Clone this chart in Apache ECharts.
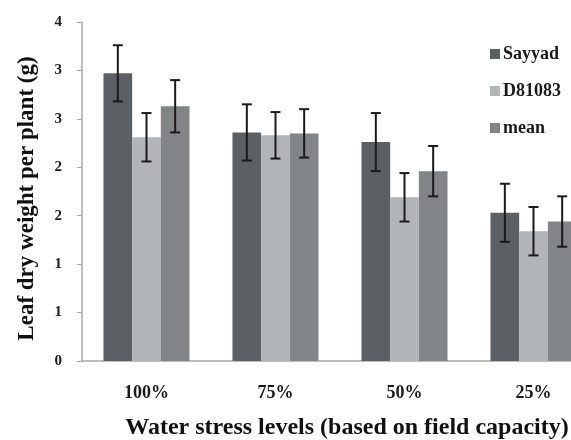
<!DOCTYPE html>
<html>
<head>
<meta charset="utf-8">
<script src="https://cdn.jsdelivr.net/npm/echarts@6/dist/echarts.min.js"></script>
<style>
  html, body { margin: 0; padding: 0; background: #fff; }
  #chart { width: 571px; height: 440px; }
</style>
</head>
<body>
<div id="chart"></div>
<script>
var categories = ['100%', '75%', '50%', '25%'];
var sayyad = [2.97, 2.36, 2.26, 1.53];
var sayyadErr = [0.29, 0.29, 0.30, 0.30];
var d81083 = [2.31, 2.33, 1.69, 1.34];
var d81083Err = [0.25, 0.24, 0.25, 0.25];
var meanVals = [2.63, 2.35, 1.96, 1.44];
var meanErr = [0.27, 0.25, 0.26, 0.26];
var yTickLabels = ['0', '1', '1', '2', '2', '3', '3', '4'];

var colors = ['#5b6064', '#b1b5b8', '#818588'];
var font = 'Liberation Serif';

// error bar series, drawn at the centre of the matching bar
function errorSeries(idx, vals, errs) {
  var data = vals.map(function(v, i) {
    return [i, v - errs[i], v + errs[i]];
  });
  return {
    type: 'custom',
    silent: true,
    z: 10,
    data: data,
    renderItem: function(params, api) {
      var band = api.size([1, 0])[0];
      var barW = band * (2 / 3) / 3;
      var off = (idx - 1) * barW;
      var lo = api.coord([api.value(0), api.value(1)]);
      var hi = api.coord([api.value(0), api.value(2)]);
      var x = lo[0] + off;
      var cap = 5;
      var style = { stroke: '#1a1a1a', lineWidth: 2 };
      return {
        type: 'group',
        children: [
          { type: 'line', shape: { x1: x, y1: hi[1], x2: x, y2: lo[1] }, style: style },
          { type: 'line', shape: { x1: x - cap, y1: hi[1], x2: x + cap, y2: hi[1] }, style: style },
          { type: 'line', shape: { x1: x - cap, y1: lo[1], x2: x + cap, y2: lo[1] }, style: style }
        ]
      };
    },
    encode: { x: 0, y: [1, 2] }
  };
}

var chart = echarts.init(document.getElementById('chart'));
chart.setOption({
  animation: false,
  color: colors,
  textStyle: { fontFamily: font },
  grid: { left: 82, top: 22, right: -27, bottom: 79, containLabel: false, outerBoundsMode: 'none' },
  legend: {
    orient: 'vertical',
    left: 485,
    top: 40,
    itemWidth: 10,
    itemHeight: 10,
    itemGap: 19,
    icon: 'rect',
    data: ['Sayyad', 'D81083', 'mean'],
    textStyle: { fontFamily: font, fontWeight: 'bold', fontSize: 18, color: '#1a1a1a', padding: [0, 0, 0, -2] }
  },
  xAxis: {
    type: 'category',
    data: categories,
    axisLine: { lineStyle: { color: '#a8a8a8', width: 1.5 } },
    axisTick: { show: false },
    axisLabel: { fontFamily: font, fontWeight: 'bold', fontSize: 18, color: '#1a1a1a', margin: 23 },
    name: 'Water stress levels (based on field capacity)',
    nameLocation: 'middle',
    nameGap: 55,
    nameTextStyle: { fontFamily: font, fontWeight: 'bold', fontSize: 24, color: '#111', padding: [0, 0, 0, 14] }
  },
  yAxis: {
    type: 'value',
    min: 0,
    max: 3.5,
    interval: 0.5,
    axisLine: { show: true, lineStyle: { color: '#a8a8a8', width: 1.5 } },
    axisTick: { show: true, length: 5, lineStyle: { color: '#a8a8a8' } },
    splitLine: { show: false },
    axisLabel: {
      fontFamily: font, fontWeight: 'bold', fontSize: 15, color: '#1a1a1a', margin: 20,
      formatter: function(v) { return yTickLabels[Math.round(v / 0.5)]; }
    },
    name: 'Leaf dry weight per plant (g)',
    nameLocation: 'middle',
    nameGap: 43,
    nameTextStyle: { fontFamily: font, fontWeight: 'bold', fontSize: 23, color: '#111', padding: [0, 14, 0, 0] }
  },
  series: [
    { name: 'Sayyad', type: 'bar', data: sayyad, barGap: '0%', barCategoryGap: '33.3%' },
    { name: 'D81083', type: 'bar', data: d81083, barGap: '0%', barCategoryGap: '33.3%' },
    { name: 'mean', type: 'bar', data: meanVals, barGap: '0%', barCategoryGap: '33.3%' },
    errorSeries(0, sayyad, sayyadErr),
    errorSeries(1, d81083, d81083Err),
    errorSeries(2, meanVals, meanErr)
  ]
});
</script>
</body>
</html>
